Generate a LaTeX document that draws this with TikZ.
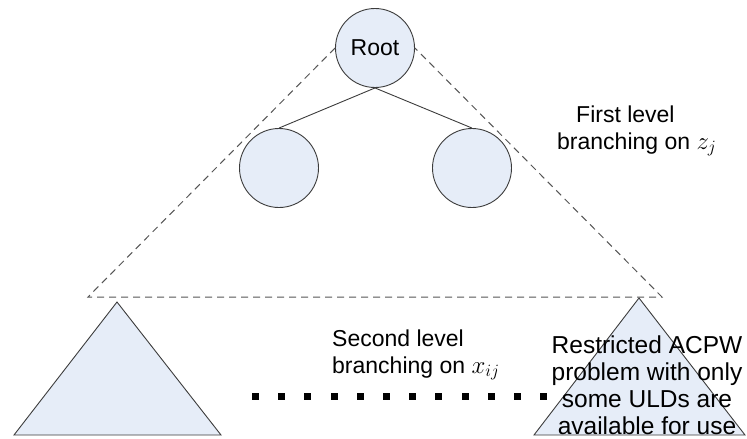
\documentclass[tikz,border=0pt]{standalone}
\usepackage{fontspec}
\setmainfont{Liberation Sans}
\definecolor{nodefill}{HTML}{E6EDF8}
\definecolor{edgegray}{HTML}{3C3C3C}
\definecolor{dashgray}{HTML}{555555}
\tikzset{
  treenode/.style={circle, draw=edgegray, line width=0.9pt, fill=nodefill, minimum size=79pt, inner sep=0pt},
  treeedge/.style={draw=edgegray, line width=0.9pt},
  dashedge/.style={draw=dashgray, line width=1pt, dash pattern=on 7pt off 5pt},
  subtree/.style={draw=edgegray, line width=0.9pt, fill=nodefill, line join=miter},
  label23/.style={font=\fontsize{23}{26.5}\selectfont, inner sep=0pt},
  label25/.style={font=\fontsize{24.5}{27}\selectfont, inner sep=0pt},
  dotsq/.style={fill=black}
}
\begin{document}
\begin{tikzpicture}[x=1pt,y=-1pt]
\useasboundingbox (0,0) rectangle (747,439);
% first-level tree
\node[treenode, label23] (root) at (375,48) {Root};
\node[treenode] (left) at (279,168) {};
\node[treenode] (right) at (472,168) {};
\draw[treeedge] (root.south) -- (left.north);
\draw[treeedge] (root.south) -- (right.north);
% dashed envelope
\coordinate (envL) at (88,297);
\coordinate (envR) at (662,297);
\draw[dashedge] (root.west) -- (envL) -- (envR) -- (root.east);
% second-level subtrees
\coordinate (ltA) at (117,302);
\coordinate (ltL) at (14,435);
\coordinate (ltR) at (221,435);
\draw[subtree] (ltA) -- (ltR) -- (ltL) -- cycle;
\coordinate (rtA) at (639,298);
\coordinate (rtL) at (534,435);
\coordinate (rtR) at (745,435);
\draw[subtree] (rtA) -- (rtR) -- (rtL) -- cycle;
% dots
\foreach \i in {0,...,11} {
  \fill[dotsq] ({252+26.2*\i},392.5) rectangle ++(7,7);
}
% labels (base anchor = baseline of last line)
\node[label23, anchor=base west, align=left] (first) at (557,149)
  {\hspace*{19pt}First level\\branching on $z_j$};
\node[label23, anchor=base west, align=left] (second) at (332,373)
  {Second level\\branching on $x_{ij}$};
\node[label25, anchor=base, align=center] (restricted) at (647,434)
  {Restricted ACPW\\problem with only\\some ULDs are\\available for use};
\end{tikzpicture}
\end{document}
